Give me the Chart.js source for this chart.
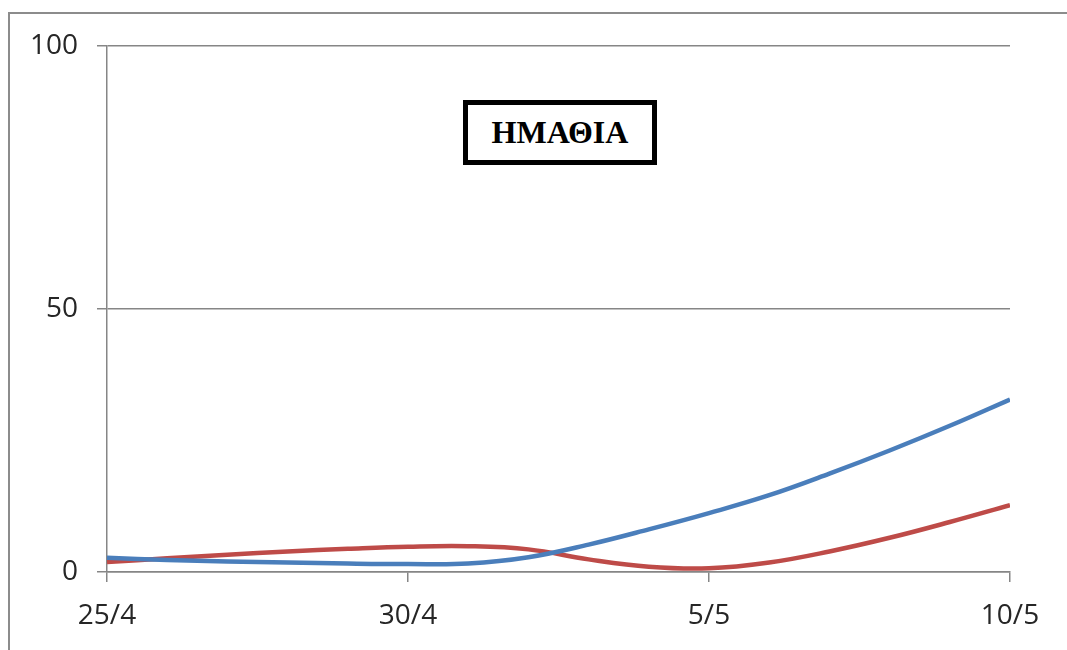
<!DOCTYPE html>
<html>
<head>
<meta charset="utf-8">
<script src="https://cdn.jsdelivr.net/npm/chart.js@4"></script>
<style>
  html, body { margin: 0; padding: 0; background: #fff; }
  #wrap { position: relative; width: 1067px; height: 650px; overflow: hidden; }
  #frame { position: absolute; left: 8px; top: 12px; width: 1100px; height: 700px;
           border-left: 2px solid #8c8c8c; border-top: 2px solid #8c8c8c; box-sizing: border-box; }
  #box { position: absolute; left: 463px; top: 100px; width: 194px; height: 65px; box-sizing: border-box;
         border: 5px solid #000; background: #fff; display: flex; align-items: center; justify-content: center;
         font-family: "Liberation Serif", "Times New Roman", serif; font-weight: bold; font-size: 32px; color: #000; }
  canvas { position: absolute; left: 0; top: 0; }
</style>
</head>
<body>
<div id="wrap">
  <div id="frame"></div>
  <canvas id="c" width="1067" height="650"></canvas>
  <div id="box">ΗΜΑΘΙΑ</div>
</div>
<script>
const dates = ["25/4","26/4","27/4","28/4","29/4","30/4","1/5","2/5","3/5","4/5","5/5","6/5","7/5","8/5","9/5","10/5"];
const blueValues = [2.7, 2.3, 2.0, 1.8, 1.6, 1.5, 1.6, 2.8, 5.2, 8.1, 11.2, 14.6, 18.7, 23.1, 27.8, 32.8];
const redValues  = [1.9, 2.6, 3.3, 3.9, 4.4, 4.8, 4.9, 4.3, 2.4, 1.0, 0.7, 1.8, 3.9, 6.5, 9.5, 12.7];
const yTicks = [0, 50, 100];
const xTickEvery = 5;

const toXY = arr => arr.map((v, i) => ({ x: i, y: v }));
const axisColor = '#868686';
const tickFont = { family: '"Open Sans", sans-serif', size: 28 };

new Chart(document.getElementById('c'), {
  type: 'line',
  data: {
    datasets: [
      { data: toXY(blueValues), borderColor: '#4A7EBB', borderWidth: 4.5, pointRadius: 0, tension: 0.4, fill: false },
      { data: toXY(redValues), borderColor: '#BE4B48', borderWidth: 4.5, pointRadius: 0, tension: 0.4, fill: false }
    ]
  },
  options: {
    responsive: false,
    devicePixelRatio: 1,
    animation: false,
    layout: { padding: { left: 0, top: 46, right: 57, bottom: 0 } },
    plugins: { legend: { display: false }, tooltip: { enabled: false }, title: { display: false } },
    scales: {
      x: {
        type: 'linear',
        min: 0, max: dates.length - 1,
        afterBuildTicks: s => { s.ticks = dates.map((d, i) => ({ value: i })).filter(t => t.value % xTickEvery === 0); },
        afterFit: s => { s.height = 78; },
        ticks: { callback: v => dates[v], font: tickFont, color: '#262626', padding: 17, maxRotation: 0, autoSkip: false },
        grid: { drawOnChartArea: false, drawTicks: true, tickLength: 10, color: axisColor, lineWidth: 1.5 },
        border: { color: axisColor, width: 1.5 }
      },
      y: {
        min: 0, max: 100,
        afterBuildTicks: s => { s.ticks = yTicks.map(v => ({ value: v })); },
        afterFit: s => { s.width = 107; },
        ticks: { font: tickFont, color: '#262626', padding: 19 },
        grid: { color: axisColor, lineWidth: 1.5, tickLength: 10 },
        border: { color: axisColor, width: 1.5 }
      }
    }
  }
});
</script>
</body>
</html>
